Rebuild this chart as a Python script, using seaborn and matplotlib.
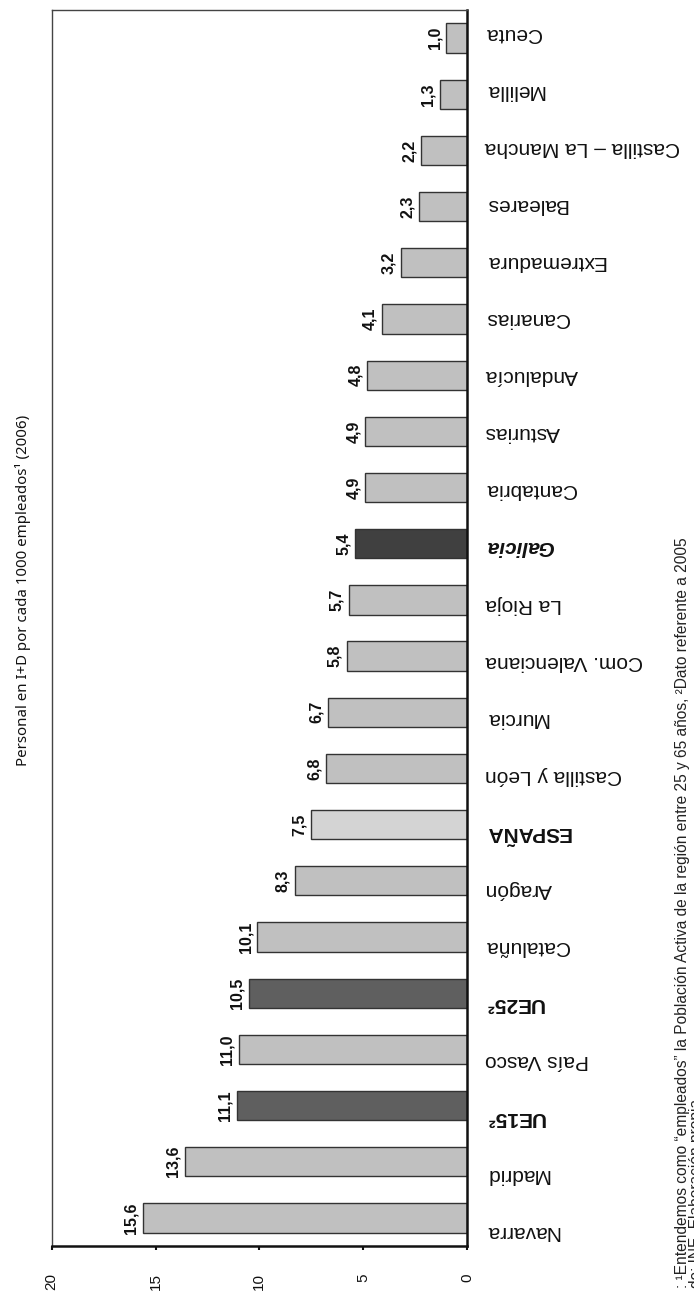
import matplotlib
matplotlib.use("Agg")
import matplotlib.pyplot as plt
import seaborn as sns
import pandas as pd

categories = ["Navarra", "Madrid", "UE15²", "País Vasco", "UE25²", "Cataluña", "Aragón",
              "ESPAÑA", "Castilla y León", "Murcia", "Com. Valenciana", "La Rioja", "Galicia",
              "Cantabria", "Asturias", "Andalucía", "Canarias", "Extremadura", "Baleares",
              "Castilla – La Mancha", "Melilla", "Ceuta"]
values = [15.6, 13.6, 11.1, 11.0, 10.5, 10.1, 8.3, 7.5, 6.8, 6.7, 5.8, 5.7, 5.4,
          4.9, 4.9, 4.8, 4.1, 3.2, 2.3, 2.2, 1.3, 1.0]
groups = ["region", "region", "eu", "region", "eu", "region", "region",
          "spain", "region", "region", "region", "region", "galicia",
          "region", "region", "region", "region", "region", "region",
          "region", "region", "region"]
x_ticks = [0, 5, 10, 15, 20]
title = "Personal en I+D por cada 1000 empleados¹ (2006)"
note1 = ": ¹Entendemos como “empleados” la Población Activa de la región entre 25 y 65 años, ²Dato referente a 2005"
note2 = "de: INE. Elaboración propia"

group_colors = {"region": "#C0C0C0", "eu": "#5F5F5F", "spain": "#D4D4D4", "galicia": "#404040"}

df = pd.DataFrame({"cat": categories, "val": values, "grp": groups})

sns.set_theme(style="white")
plt.rcParams["font.family"] = ["Liberation Sans", "DejaVu Sans"]

fig = plt.figure(figsize=(6.94, 12.92), dpi=100)
ax = fig.add_axes([51.7 / 694, 46 / 1292, (467 - 51.7) / 694, (1246 - 10) / 1292])

order = categories[::-1]
palette = {c: group_colors[g] for c, g in zip(categories, groups)}
sns.barplot(data=df, y="cat", x="val", hue="cat", order=order, hue_order=order,
            palette=palette, orient="h", width=0.52, edgecolor="#333333",
            linewidth=1.0, legend=False, ax=ax, saturation=1)

n = len(categories)
ax.set_xlim(20, 0)
ax.set_ylim(n - 0.5, -0.5)
ax.set_xticks(x_ticks)
ax.set_xticklabels([str(t) for t in x_ticks], rotation=90, fontsize=11, color="#111111")
ax.tick_params(axis="x", direction="out", length=3, width=1.5, color="#111111", pad=16.5, bottom=True)
ax.set_xlabel("")
ax.set_ylabel("")

for sp in ["left", "top"]:
    ax.spines[sp].set_color("#444444")
    ax.spines[sp].set_linewidth(1.0)
for sp in ["right", "bottom"]:
    ax.spines[sp].set_color("#111111")
    ax.spines[sp].set_linewidth(1.8)

for cont in ax.containers:
    labels = [f"{v:.1f}".replace(".", ",") for v in cont.datavalues]
    ax.bar_label(cont, labels=labels, rotation=90, padding=3, fontsize=11.5,
                 fontweight="bold", color="#111111")

# category labels on a twin axis (slightly wider spacing, as in the reference)
ax2 = ax.twinx()
ax2.set_ylim(21.253, -0.412)
ax2.set_yticks(range(n))
ax2.set_yticklabels(order)
ax2.tick_params(axis="y", length=0, pad=13, left=False, right=True,
                labelleft=False, labelright=True)
ax.tick_params(axis="y", left=False, right=False, labelleft=False, labelright=False, length=0)
for sp in ax2.spines.values():
    sp.set_visible(False)
for lab in ax2.get_yticklabels():
    txt = lab.get_text()
    lab.set_rotation(180)
    lab.set_fontsize(15)
    lab.set_va("center")
    lab.set_ha("left")
    lab.set_color("#111111")
    if txt in ("UE15²", "UE25²", "ESPAÑA"):
        lab.set_fontweight("bold")
    if txt == "Galicia":
        lab.set_fontweight("bold")
        lab.set_fontstyle("italic")

fig.text(23 / 694, 1 - 590 / 1292, title, rotation=90, ha="center", va="center",
         fontsize=10.8, family=["Noto Sans", "DejaVu Sans"], color="#111111")
fig.text(682 / 694, 4 / 1292, note1, rotation=90, ha="center", va="bottom",
         fontsize=11.2, color="#222222")
fig.text(697 / 694, 4 / 1292, note2, rotation=90, ha="center", va="bottom",
         fontsize=11.2, color="#222222")

fig.savefig("out.png", dpi=100)
